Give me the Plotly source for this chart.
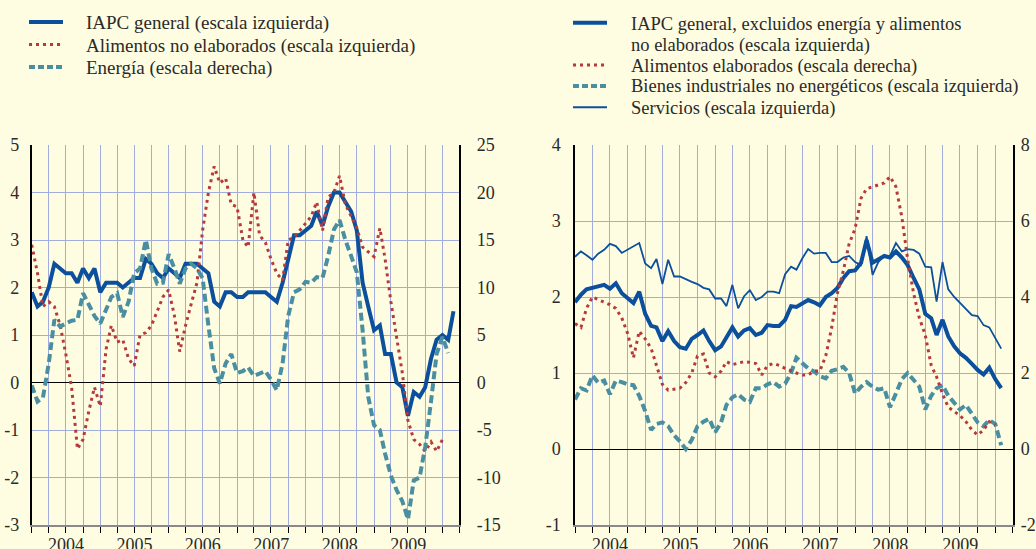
import pandas as pd
import plotly.graph_objects as go

# ---------------- data (annual % changes, monthly from Jan 2004) ----------------
iapc_general = [1.9, 1.6, 1.7, 2.0, 2.5, 2.4, 2.3, 2.3, 2.1, 2.4, 2.2, 2.4,
                1.9, 2.1, 2.1, 2.1, 2.0, 2.1, 2.2, 2.2, 2.6, 2.5, 2.3, 2.2,
                2.4, 2.3, 2.2, 2.5, 2.5, 2.5, 2.4, 2.3, 1.7, 1.6, 1.9, 1.9,
                1.8, 1.8, 1.9, 1.9, 1.9, 1.9, 1.8, 1.7, 2.1, 2.6, 3.1, 3.1,
                3.2, 3.3, 3.6, 3.3, 3.7, 4.0, 4.0, 3.8, 3.6, 3.2, 2.1, 1.6,
                1.1, 1.2, 0.6, 0.6, 0.0, -0.1, -0.7, -0.2, -0.3, -0.1, 0.5, 0.9,
                1.0, 0.9, 1.5]
alimentos_no_elab = [2.9, 2.3, 1.6, 1.7, 1.6, 1.2, 0.6, -0.1, -1.4, -1.2, -0.6, -0.1,
                     -0.5, 0.7, 1.2, 0.85, 0.9, 0.5, 0.35, 1.0, 1.05, 1.2, 1.5, 1.8,
                     1.95, 1.4, 0.65, 1.2, 1.65, 2.1, 3.2, 4.0, 4.55, 4.2, 4.3, 3.75,
                     3.7, 3.0, 2.85, 4.0, 3.1, 2.95, 2.6, 2.3, 2.15, 3.0, 3.05, 3.2,
                     3.35, 3.5, 3.8, 3.2, 3.9, 4.0, 4.35, 3.75, 3.5, 3.25, 2.85, 2.75,
                     2.65, 3.25, 2.6, 1.7, 1.0, 0.2, -0.8, -1.2, -1.3, -1.45, -1.25, -1.45,
                     -1.2]
energia = [-0.3, -2.0, -1.6, 2.0, 6.6, 5.9, 6.2, 6.5, 6.6, 9.4, 8.2, 7.0,
           6.2, 7.6, 9.0, 9.4, 6.9, 8.5, 11.5, 12.0, 15.0, 12.0, 10.4, 10.5,
           13.5, 12.0, 10.4, 12.0, 12.5, 12.0, 11.0, 6.0, 1.5, -0.1, 2.0, 3.0,
           1.0, 1.2, 1.6, 0.7, 1.0, 1.2, 0.3, -0.8, 2.0, 7.0, 9.5, 9.8,
           10.6, 10.5, 11.1, 11.0, 13.3, 16.1, 17.1, 15.0, 13.3, 11.6, 5.5, -1.5,
           -4.5, -5.0, -7.5, -9.8, -11.3, -12.5, -14.4, -10.3, -10.0, -6.8, -2.0, 3.0,
           4.8, 3.1]

iapc_subyacente = [1.93, 2.03, 2.1, 2.12, 2.13, 2.16, 2.11, 2.18, 2.05, 1.98, 1.92, 2.07,
                   1.78, 1.62, 1.6, 1.42, 1.55, 1.42, 1.34, 1.32, 1.45, 1.5, 1.56, 1.42,
                   1.3, 1.35, 1.47, 1.6, 1.48, 1.56, 1.59, 1.5, 1.53, 1.63, 1.62, 1.62,
                   1.7, 1.88, 1.87, 1.92, 1.96, 1.93, 1.89, 2.0, 2.05, 2.12, 2.25, 2.34,
                   2.35, 2.45, 2.75, 2.45, 2.5, 2.54, 2.52, 2.6, 2.52, 2.42, 2.25, 2.1,
                   1.78, 1.72, 1.5, 1.7, 1.48, 1.35, 1.26, 1.2, 1.12, 1.04, 0.98, 1.07,
                   0.92, 0.8]
alimentos_elab = [3.3, 3.2, 3.7, 4.0, 3.93, 3.87, 3.8, 3.7, 3.45, 3.05, 2.4, 3.1,
                  2.9, 2.65, 2.2, 1.7, 1.55, 1.57, 1.6, 1.75, 2.0, 2.45, 2.5, 2.0,
                  1.9, 2.05, 2.3, 2.22, 2.25, 2.3, 2.28, 2.25, 1.95, 2.2, 2.25, 2.2,
                  2.12, 2.05, 2.0, 1.95, 1.95, 2.05, 2.05, 2.45, 3.2, 4.1, 4.7, 5.4,
                  5.8, 6.6, 6.85, 6.9, 6.95, 7.0, 7.17, 6.9, 6.1, 5.0, 4.1, 3.45,
                  3.0, 2.2, 1.9, 1.45, 1.1, 1.0, 0.88, 0.72, 0.5, 0.37, 0.5, 0.72,
                  0.63]
bienes_industriales = [0.65, 0.8, 0.77, 0.97, 0.87, 0.9, 0.72, 0.9, 0.88, 0.85, 0.84, 0.7,
                       0.5, 0.25, 0.33, 0.35, 0.3, 0.18, 0.1, 0.0, 0.12, 0.3, 0.36, 0.4,
                       0.22, 0.35, 0.58, 0.68, 0.72, 0.65, 0.62, 0.8, 0.8, 0.85, 0.88, 0.82,
                       0.86, 1.0, 1.2, 1.12, 1.06, 1.02, 0.96, 0.93, 1.03, 1.05, 1.08, 1.0,
                       0.73, 0.82, 0.88, 0.82, 0.78, 0.8, 0.55, 0.73, 0.92, 1.0, 0.9, 0.82,
                       0.52, 0.7, 0.8, 0.84, 0.7, 0.6, 0.52, 0.58, 0.47, 0.35, 0.3, 0.38,
                       0.33, 0.05]
servicios = [2.53, 2.6, 2.55, 2.49, 2.57, 2.62, 2.7, 2.67, 2.58, 2.62, 2.66, 2.71,
             2.44, 2.38, 2.5, 2.17, 2.49, 2.27, 2.27, 2.24, 2.2, 2.17, 2.12, 2.1,
             1.98, 1.98, 1.88, 2.16, 1.85, 2.01, 2.09, 1.96, 2.0, 2.07, 2.07, 2.05,
             2.3, 2.4, 2.36, 2.51, 2.63, 2.57, 2.58, 2.58, 2.46, 2.46, 2.52, 2.54,
             2.46, 2.42, 2.8, 2.29, 2.46, 2.54, 2.54, 2.71, 2.6, 2.63, 2.62, 2.57,
             2.4, 2.39, 1.94, 2.46, 2.1, 2.0, 1.92, 1.83, 1.76, 1.75, 1.63, 1.6,
             1.45, 1.32]

left_ticks_a = [-3, -2, -1, 0, 1, 2, 3, 4, 5]
right_ticks_a = [-15, -10, -5, 0, 5, 10, 15, 20, 25]
left_ticks_b = [-1, 0, 1, 2, 3, 4]
right_ticks_b = [-2, 0, 2, 4, 6, 8]

legend_a = ["IAPC general (escala izquierda)",
            "Alimentos no elaborados (escala izquierda)",
            "Energía (escala derecha)"]
legend_b = ["IAPC general, excluidos energía y alimentos",
            "no elaborados (escala izquierda)",
            "Alimentos elaborados (escala derecha)",
            "Bienes industriales no energéticos (escala izquierda)",
            "Servicios (escala izquierda)"]

def months(n):
    return pd.date_range("2004-01-01", periods=n, freq="MS")

# ---------------- styling ----------------
W, H = 1036, 549
BG = "#fffde1"
GRID = "#a2acdf"
BLUE = "#0b4f9d"
RED = "#b53a3a"
TEAL = "#4a8ea2"
TXT = "#2a2a2a"
SERIF = "Liberation Serif, Times New Roman, serif"
DOT = "3px,4px"
DASH = "8px,4px"

fig = go.Figure()

fig.add_trace(go.Scatter(x=months(len(iapc_general)), y=iapc_general, mode="lines",
                         name=legend_a[0], line=dict(color=BLUE, width=4), xaxis="x", yaxis="y"))
fig.add_trace(go.Scatter(x=months(len(alimentos_no_elab)), y=alimentos_no_elab, mode="lines",
                         name=legend_a[1], line=dict(color=RED, width=3, dash=DOT), xaxis="x", yaxis="y"))
fig.add_trace(go.Scatter(x=months(len(energia)), y=energia, mode="lines",
                         name=legend_a[2], line=dict(color=TEAL, width=4, dash=DASH), xaxis="x", yaxis="y2"))

fig.add_trace(go.Scatter(x=months(len(iapc_subyacente)), y=iapc_subyacente, mode="lines",
                         name=legend_b[0] + " " + legend_b[1], line=dict(color=BLUE, width=4),
                         xaxis="x2", yaxis="y3"))
fig.add_trace(go.Scatter(x=months(len(alimentos_elab)), y=alimentos_elab, mode="lines",
                         name=legend_b[2], line=dict(color=RED, width=3, dash=DOT), xaxis="x2", yaxis="y4"))
fig.add_trace(go.Scatter(x=months(len(bienes_industriales)), y=bienes_industriales, mode="lines",
                         name=legend_b[3], line=dict(color=TEAL, width=4, dash=DASH), xaxis="x2", yaxis="y3"))
fig.add_trace(go.Scatter(x=months(len(servicios)), y=servicios, mode="lines",
                         name=legend_b[4], line=dict(color=BLUE, width=1.8), xaxis="x2", yaxis="y3"))

XD_A = [31.7 / W, 459.3 / W]
XD_B = [575 / W, 1012.5 / W]
YD = [24 / H, 404 / H]

def xaxis(domain, anchor):
    return dict(domain=domain, anchor=anchor, type="date",
                range=["2004-01-01", "2010-04-01"],
                tick0="2004-01-01", dtick="M12", ticklabelmode="period",
                tickformat="%Y", showgrid=True, gridcolor=GRID, gridwidth=1,
                ticks="outside", ticklen=6, tickcolor="black", tickwidth=1.3,
                ticklabelstandoff=-3,
                minor=dict(dtick="M3", tick0="2004-01-01", showgrid=True, gridcolor=GRID,
                           gridwidth=1, ticks="outside", ticklen=6, tickcolor="black", tickwidth=1.3),
                showline=True, linecolor="#8a8a8a", linewidth=1.5,
                tickfont=dict(family=SERIF, size=18, color=TXT),
                zeroline=False, automargin=False, fixedrange=True)

def yaxis(anchor, rng, ticks, side="left", overlay=None, grid=True, standoff=6):
    d = dict(anchor=anchor, range=rng, tickvals=ticks, ticktext=[str(t) for t in ticks],
             side=side, showgrid=grid, gridcolor=GRID, gridwidth=1,
             zeroline=grid, zerolinecolor="black", zerolinewidth=1.2,
             showline=True, linecolor="black", linewidth=1.5, ticks="",
             ticklabelstandoff=standoff,
             tickfont=dict(family=SERIF, size=18, color=TXT),
             automargin=False, fixedrange=True, domain=YD)
    if overlay:
        d["overlaying"] = overlay
    return d

# ---------------- legends (sample lines + text) ----------------
shapes, annotations = [], []

def sample(x0, x1, yc, color, width, dash):
    shapes.append(dict(type="line", xref="paper", yref="paper",
                       x0=x0 / W, x1=x1 / W, y0=1 - yc / H, y1=1 - yc / H,
                       line=dict(color=color, width=width, dash=dash)))

def label(x, yc, text, size):
    annotations.append(dict(text=text, xref="paper", yref="paper", x=x / W, y=1 - yc / H,
                            xanchor="left", yanchor="middle", showarrow=False,
                            font=dict(family=SERIF, size=size, color=TXT)))

rows_a = [22, 44.5, 67]
sample(29, 63, rows_a[0], BLUE, 4, "solid")
sample(29, 63, rows_a[1], RED, 3, DOT)
sample(29, 63, rows_a[2], TEAL, 4, "6px,3px")
for yc, t in zip(rows_a, legend_a):
    label(84, yc + 1, t, 19)

rows_b = [22.7, 44.2, 65, 86, 107.3]
sample(573, 607, rows_b[0], BLUE, 4, "solid")
sample(573, 607, rows_b[2], RED, 3, DOT)
sample(573, 607, rows_b[3], TEAL, 4, "6px,3px")
sample(573, 607, rows_b[4], BLUE, 2, "solid")
for yc, t in zip(rows_b, legend_b):
    label(629, yc + 1, t, 18.5)

fig.update_layout(
    width=W, height=H,
    margin=dict(l=0, r=0, t=0, b=0),
    paper_bgcolor=BG, plot_bgcolor=BG,
    xaxis=xaxis(XD_A, "y"),
    xaxis2=xaxis(XD_B, "y3"),
    yaxis=yaxis("x", [-3, 5], left_ticks_a, standoff=7),
    yaxis2=yaxis("x", [-15, 25], right_ticks_a, side="right", overlay="y", grid=False, standoff=12),
    yaxis3=yaxis("x2", [-1, 4], left_ticks_b, standoff=9),
    yaxis4=yaxis("x2", [-2, 8], right_ticks_b, side="right", overlay="y3", grid=False, standoff=3),
    showlegend=False,
    shapes=shapes,
    annotations=annotations,
)

fig.write_html("out.html",
               config={"displayModeBar": False},
               post_script="document.body.style.margin='0px';"
                           "document.documentElement.style.overflow='hidden';")
